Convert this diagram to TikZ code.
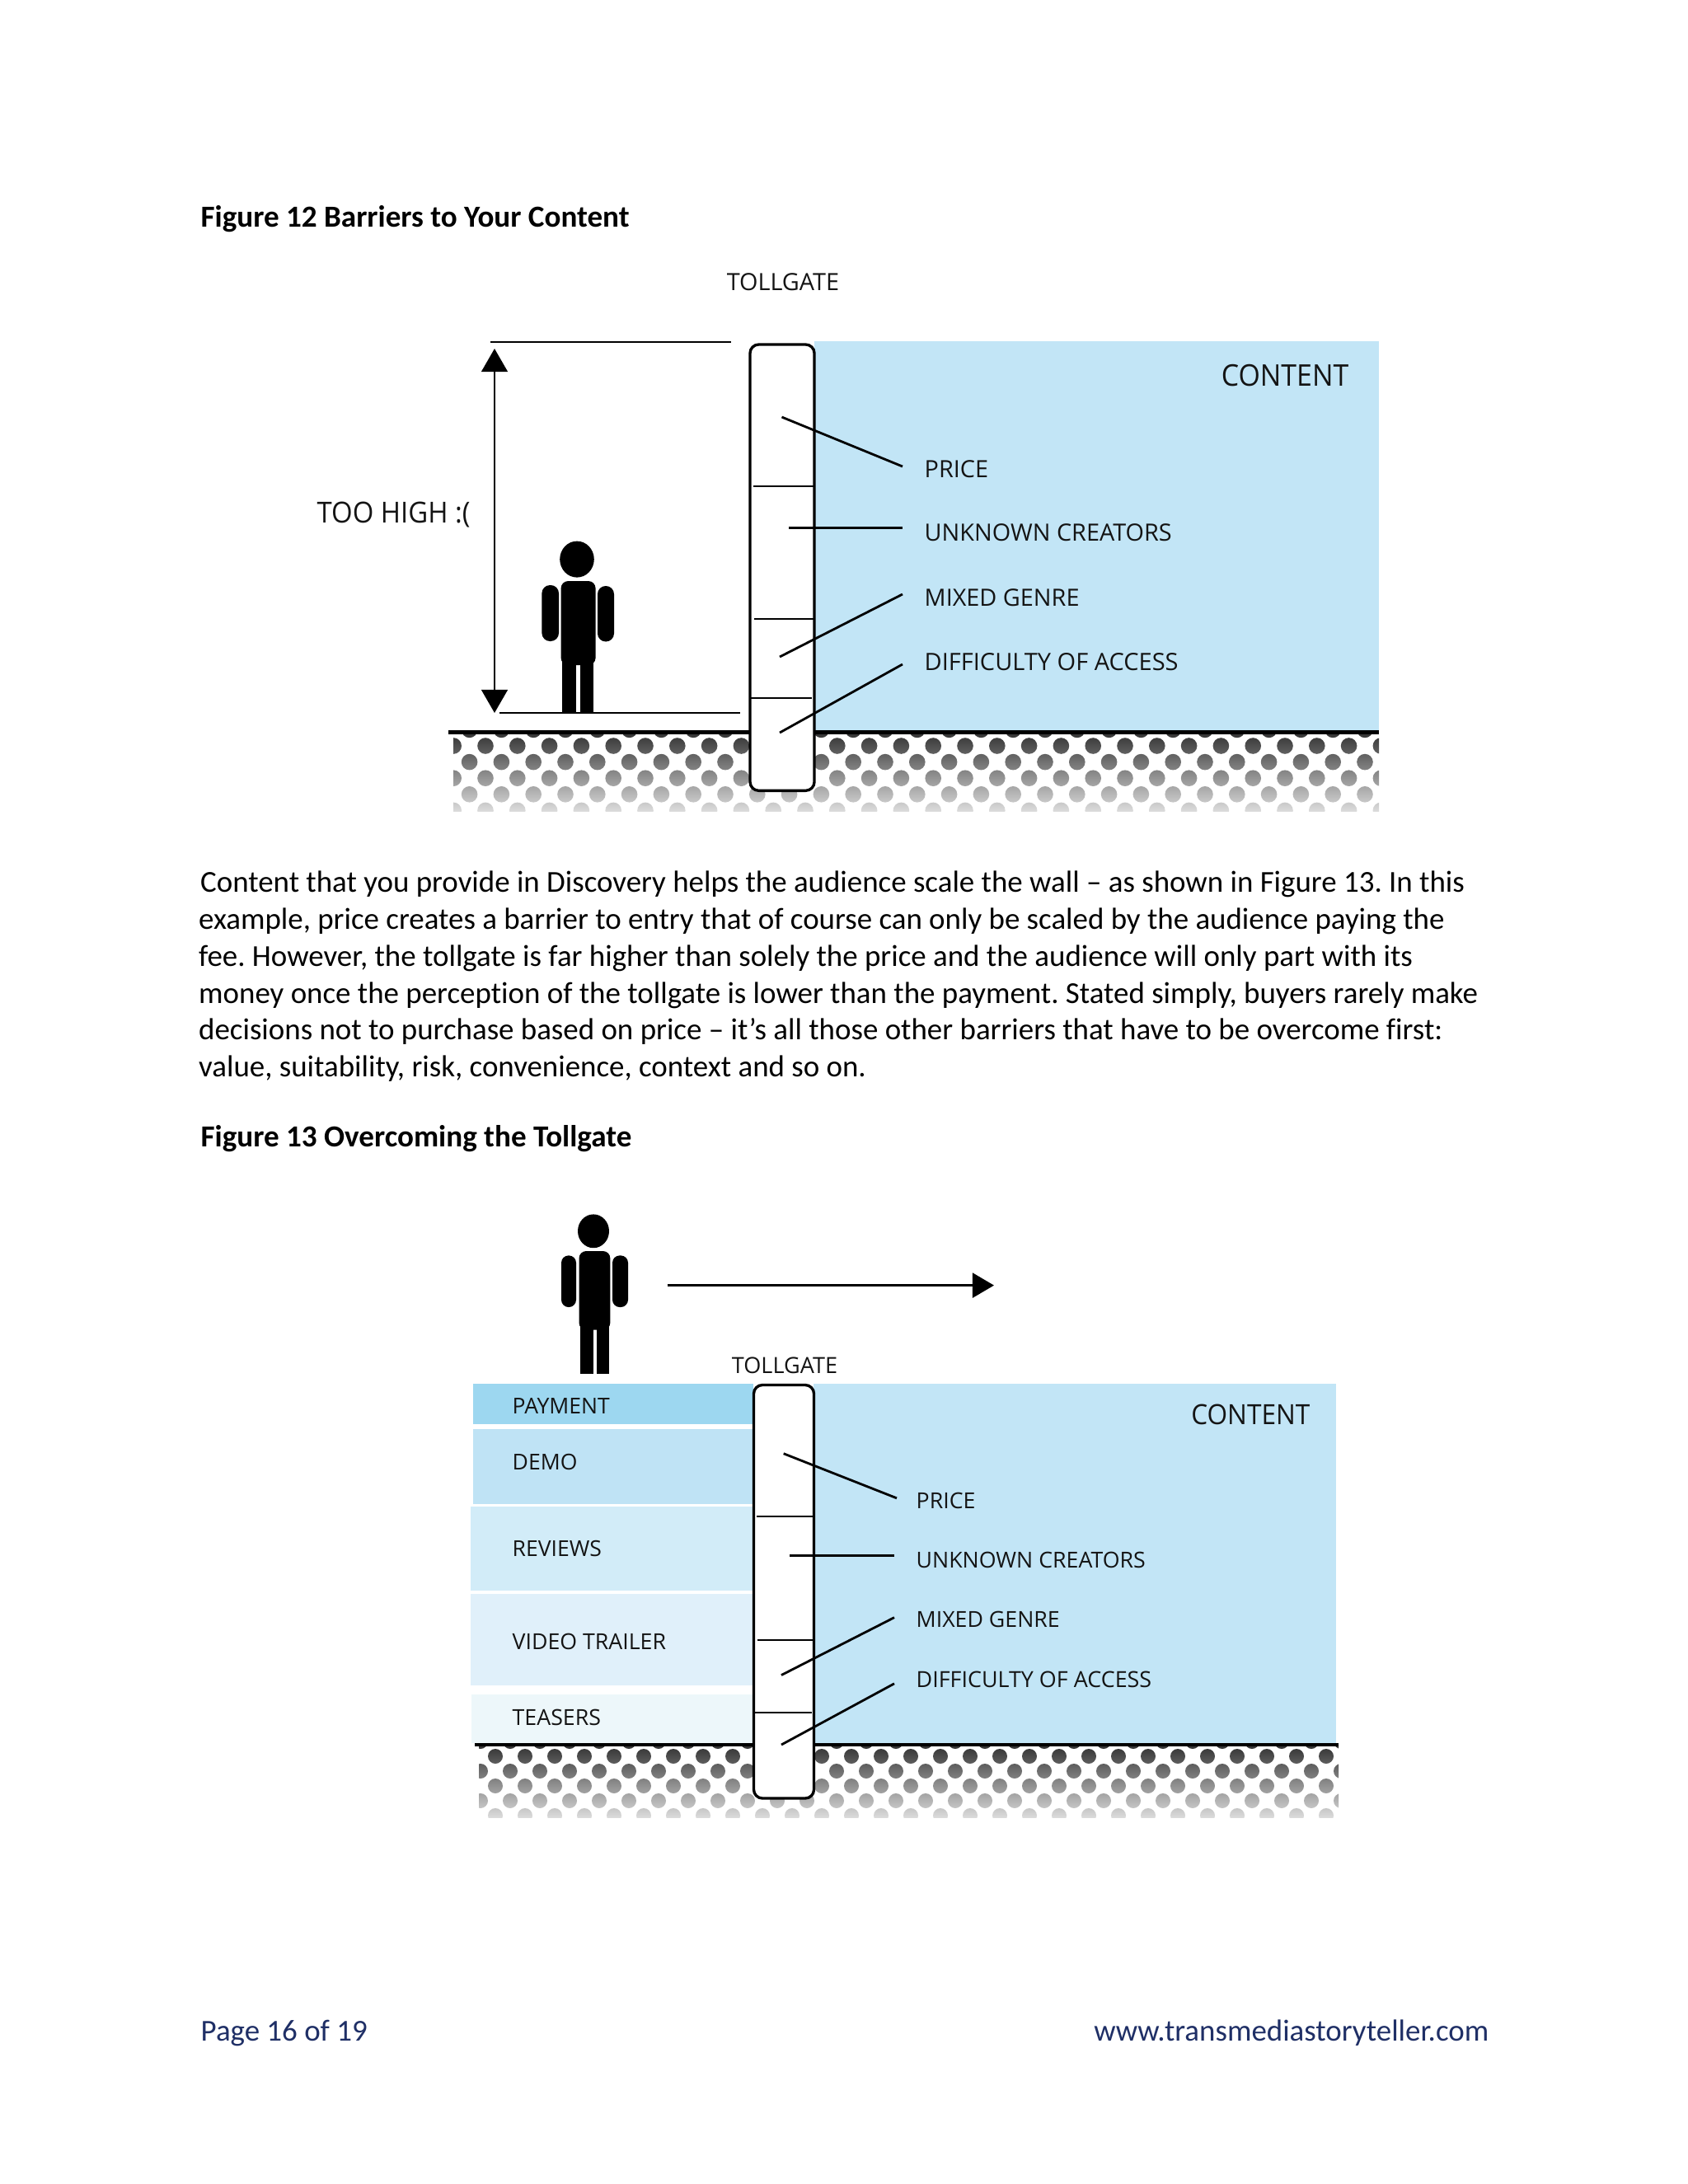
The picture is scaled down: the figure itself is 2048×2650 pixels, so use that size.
\documentclass[tikz,border=0pt]{standalone}
\usepackage{fontspec}
\setmainfont{Carlito}[Ligatures=NoCommon]
\newfontfamily\figfont{Open Sans}
\newfontfamily\figfontn{Open Sans}[FakeStretch=0.935]
\frenchspacing
\usetikzlibrary{arrows.meta}
\definecolor{contentblue}{HTML}{C2E5F6}
\definecolor{footblue}{HTML}{1F2F66}
\definecolor{inktext}{HTML}{141414}
\definecolor{paycol}{HTML}{9DD7F0}
\definecolor{democol}{HTML}{BFE3F5}
\definecolor{revcol}{HTML}{D2ECF8}
\definecolor{vidcol}{HTML}{E0F0FA}
\definecolor{teacol}{HTML}{EDF7FA}
\tikzset{
  x=0.01cm,y=-0.01cm,
  bodyline/.style={anchor=base west,inner sep=0pt,font=\fontsize{10.5pt}{12.6pt}\selectfont,text=black},
  headline/.style={bodyline,font=\fontsize{10.55pt}{12.6pt}\selectfont\bfseries},
  footline/.style={bodyline,text=footblue},
  figlabel/.style={anchor=base west,inner sep=0pt,text=inktext,font=\figfont\fontsize{#1}{#1}\selectfont},
  figlabelr/.style={figlabel=#1,anchor=base east},
  figlabelc/.style={figlabel=#1,anchor=base},
  biglabel/.style={anchor=base west,inner sep=0pt,text=inktext,font=\figfontn\fontsize{#1}{#1}\selectfont},
  rule/.style={draw=black,line width=0.8pt},
  groundline/.style={draw=black,line width=1.15pt},
  gatebox/.style={draw=black,fill=white,line width=0.95pt,rounded corners=3pt,outer sep=0pt,inner sep=0pt},
  gatetick/.style={draw=black,line width=0.7pt},
  leader/.style={draw=black,line width=0.8pt},
  fig/.style={fill=black},
}
\newcommand{\groundshade}[9]{%
 \begin{scope}
  \clip (#1,#3) rectangle (#2,#4);
  \begin{scope}
   \path[clip]
    \foreach \r in {-1,0,...,5} {
     \foreach \c in {-1,0,...,46} {
      ({#5+#6*\c+(mod(\r+2,2))*#6/2},{#7+#8*\r}) ellipse [#9]
     }
    };
   \shade[top color=black!80,bottom color=black!14] (#1,#3) rectangle (#2,#4);
  \end{scope}
 \end{scope}}
\begin{document}
\begin{tikzpicture}
\useasboundingbox (0,0) rectangle (2048,2650);
\fill[white] (0,0) rectangle (2048,2650);

% ---------- Heading 1
\node[headline] (h1) at (243,275) {Figure 12 Barriers to Your Content};

% ---------- Figure 12
\fill[contentblue] (988,414) rectangle (1673,887);
\groundshade{550}{1673}{889}{984}{589}{38.8}{905}{19.6}{x radius=9.8,y radius=9.8}
\draw[groundline] (544,888.5) -- (1673,888.5);
\node[figlabelc=8.2pt] (tg1) at (950,352.7) {TOLLGATE};
\node[biglabel=10.3pt,anchor=base east] (content1) at (1637,468) {CONTENT};
\node[biglabel=10pt] (toohigh) at (384,634) {TOO HIGH :(};
\coordinate (topa) at (595,415); \coordinate (topb) at (887,415);
\coordinate (bota) at (606,865); \coordinate (botb) at (898,865);
\draw[rule] (topa) -- (topb);
\draw[rule] (bota) -- (botb);
\coordinate (dimtop) at (600,423); \coordinate (dimbot) at (600,865);
\draw[rule,{Triangle[length=8pt,width=9pt]}-{Triangle[length=8pt,width=9pt]}] (dimtop) -- (dimbot);
% person
\fill[fig] (700,678.6) ellipse [x radius=20.8,y radius=22];
\fill[fig,rounded corners=2.5pt] (680.6,705) rectangle (722.6,807);
\fill[fig,rounded corners=2.8pt] (657.4,710) rectangle (678,778);
\fill[fig,rounded corners=2.8pt] (725,711) rectangle (745,778.5);
\fill[fig] (682.4,800) rectangle (698.5,865);
\fill[fig] (704,800) rectangle (719.5,865);
% gate
\node[gatebox,minimum width=0.78cm,minimum height=5.41cm,anchor=north west] (gate1) at (910,418) {};
\draw[gatetick] (914,590) -- (988,590);
\draw[gatetick] (915,751) -- (988,751);
\draw[gatetick] (910,847) -- (985,847);
% labels + leaders
\node[figlabel=8.2pt] (p1) at (1121,579) {PRICE};
\node[figlabel=8.2pt] (u1) at (1121,656) {UNKNOWN CREATORS};
\node[figlabel=8.2pt] (m1) at (1121,735) {MIXED GENRE};
\node[figlabel=8.25pt] (d1) at (1121,813) {DIFFICULTY OF ACCESS};
\coordinate (p1a) at (948.5,506); \coordinate (p1b) at (1095,566);
\coordinate (u1a) at (957,640.6); \coordinate (u1b) at (1095,640.6);
\coordinate (m1a) at (946,797); \coordinate (m1b) at (1095,721);
\coordinate (d1a) at (946,889); \coordinate (d1b) at (1095,806);
\draw[leader] (p1a) -- (p1b);
\draw[leader] (u1a) -- (u1b);
\draw[leader] (m1a) -- (m1b);
\draw[leader] (d1a) -- (d1b);

% ---------- Body text
\node[bodyline] (b1) at (242.5,1082) {Content that you provide in Discovery helps the audience scale the wall – as shown in Figure 13. In this};
\node[bodyline] (b2) at (240.5,1127) {example, price creates a barrier to entry that of course can only be scaled by the audience paying the};
\node[bodyline] (b3) at (240.5,1172) {fee. However, the tollgate is far higher than solely the price and the audience will only part with its};
\node[bodyline] (b4) at (240.5,1217) {money once the perception of the tollgate is lower than the payment. Stated simply, buyers rarely make};
\node[bodyline] (b5) at (240.5,1261) {decisions not to purchase based on price – it’s all those other barriers that have to be overcome first:};
\node[bodyline] (b6) at (240.5,1306) {value, suitability, risk, convenience, context and so on.};
\node[headline] (h2) at (243,1391) {Figure 13 Overcoming the Tollgate};

% ---------- Figure 13
\fill[contentblue] (987,1679) rectangle (1620.6,2115);
\fill[paycol] (573.5,1678.5) rectangle (914,1728);
\fill[democol] (573.5,1733.6) rectangle (914,1825.4);
\fill[revcol] (571,1828) rectangle (914,1930);
\fill[vidcol] (571,1933.6) rectangle (914,2044.8);
\fill[teacol] (572,2056) rectangle (914,2115);
\groundshade{581}{1624}{2118}{2205}{601}{36}{2131}{18}{x radius=9,y radius=9}
\draw[groundline] (576,2116.7) -- (1624,2116.7);
\node[figlabelc=7.7pt] (tg2) at (952,1666) {TOLLGATE};
\node[biglabel=9.6pt,anchor=base east] (content2) at (1590,1728) {CONTENT};
\node[figlabel=7.55pt] (pay) at (621,1715.7) {PAYMENT};
\node[figlabel=7.55pt] (demo) at (621,1783) {DEMO};
\node[figlabel=7.55pt] (rev) at (621,1888.7) {REVIEWS};
\node[figlabel=7.6pt] (vid) at (621,2001) {VIDEO TRAILER};
\node[figlabel=7.6pt] (tea) at (621,2093) {TEASERS};
% person and arrow
\fill[fig] (720,1493.8) ellipse [x radius=19,y radius=20.4];
\fill[fig,rounded corners=2.5pt] (702.5,1518) rectangle (740.4,1613.7);
\fill[fig,rounded corners=2.5pt] (681,1523.4) rectangle (699,1586);
\fill[fig,rounded corners=2.5pt] (743,1523.4) rectangle (762,1586);
\fill[fig] (704,1605) rectangle (719.5,1667);
\fill[fig] (723.5,1605) rectangle (738.7,1667);
\coordinate (wala) at (809.6,1559.6); \coordinate (walb) at (1206,1559.6);
\draw[rule,-{Triangle[length=7.4pt,width=8.5pt]}] (wala) -- (walb);
% gate
\node[gatebox,minimum width=0.73cm,minimum height=5.012cm,anchor=north west] (gate2) at (914.5,1680.5) {};
\draw[gatetick] (918,1840) -- (987,1840);
\draw[gatetick] (918.6,1990) -- (987,1990);
\draw[gatetick] (915,2078) -- (985,2078);
\node[figlabel=7.6pt] (p2) at (1111,1830) {PRICE};
\node[figlabel=7.6pt] (u2) at (1111,1902) {UNKNOWN CREATORS};
\node[figlabel=7.6pt] (m2) at (1111,1974) {MIXED GENRE};
\node[figlabel=7.65pt] (d2) at (1111,2047) {DIFFICULTY OF ACCESS};
\coordinate (p2a) at (950.7,1763.7); \coordinate (p2b) at (1088,1817.8);
\coordinate (u2a) at (958,1887.7); \coordinate (u2b) at (1085,1887.7);
\coordinate (m2a) at (948,2032.5); \coordinate (m2b) at (1085,1962.6);
\coordinate (d2a) at (948,2117); \coordinate (d2b) at (1085,2042.8);
\draw[leader] (p2a) -- (p2b);
\draw[leader] (u2a) -- (u2b);
\draw[leader] (m2a) -- (m2b);
\draw[leader] (d2a) -- (d2b);

% ---------- Footer
\node[footline] (fl) at (243,2476) {Page 16 of 19};
\node[footline,anchor=base east] (fr) at (1807,2476) {www.transmediastoryteller.com};
\end{tikzpicture}
\end{document}
